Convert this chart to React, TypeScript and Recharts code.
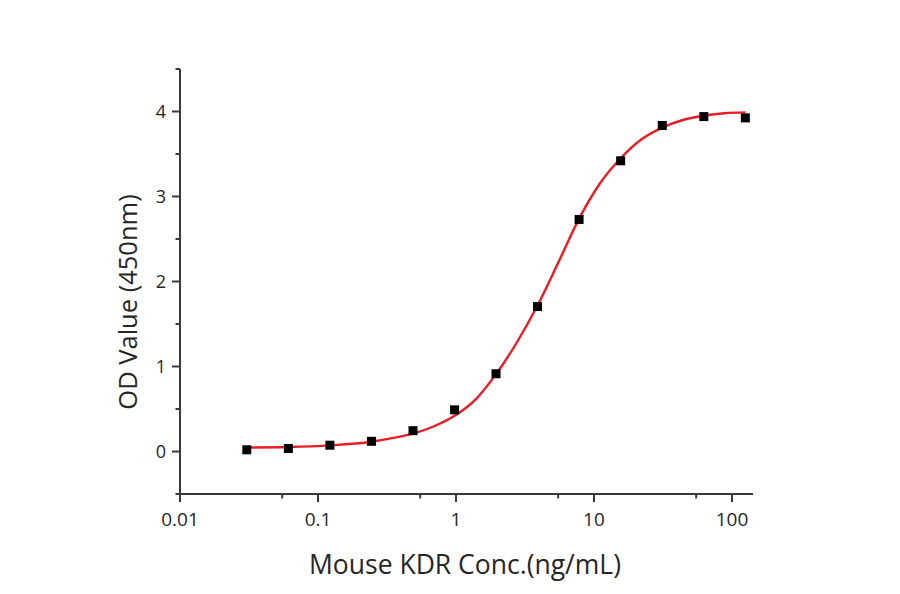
import React from "react";
import { ComposedChart, Line, Scatter, XAxis, YAxis } from "recharts";

// Measured concentrations (ng/mL) and OD values
const concentrations = [0.0305, 0.061, 0.122, 0.244, 0.488, 0.977, 1.95, 3.9, 7.8, 15.6, 31.25, 62.5, 125];
const odValues = [0.02, 0.035, 0.074, 0.12, 0.245, 0.49, 0.915, 1.705, 2.73, 3.42, 3.835, 3.94, 3.925];

// Fitted curve
const curveX = [0.0305, 0.061, 0.122, 0.244, 0.35, 0.488, 0.7, 0.977, 1.4, 1.95, 2.8, 3.9, 5.5, 7.8, 11, 15.6, 22, 31.25, 44, 62.5, 88, 125];
const curveY = [0.047, 0.053, 0.072, 0.115, 0.16, 0.21, 0.3, 0.42, 0.62, 0.91, 1.3, 1.72, 2.22, 2.74, 3.15, 3.45, 3.67, 3.81, 3.9, 3.95, 3.98, 3.99];

const xTicks = [0.01, 0.055, 0.1, 0.55, 1, 5.5, 10, 55, 100];
const xTickLabels: Record<string, string> = { "0.01": "0.01", "0.1": "0.1", "1": "1", "10": "10", "100": "100" };
const yTicks = [-0.5, 0, 0.5, 1, 1.5, 2, 2.5, 3, 3.5, 4, 4.5];

const xLabel = "Mouse KDR Conc.(ng/mL)";
const yLabel = "OD Value (450nm)";

const points = concentrations.map((x, i) => ({ x, y: odValues[i] }));
const curve = curveX.map((x, i) => ({ x, y: curveY[i] }));

const AXIS_COLOR = "#3a3a3a";
const TEXT_COLOR = "#262626";
const FONT = "'Open Sans', 'Noto Sans', sans-serif";

const XTick = (props: any) => {
  const { x, y, payload } = props;
  const v = payload.value;
  const label = xTickLabels[String(v)];
  const major = label !== undefined;
  return (
    <g>
      <line x1={x} x2={x} y1={y} y2={y + (major ? 8 : 4.5)} stroke={AXIS_COLOR} strokeWidth={2} />
      {major && (
        <text x={x} y={y + 32} textAnchor="middle" fontSize={19} fill={TEXT_COLOR} fontFamily={FONT}>
          {label}
        </text>
      )}
    </g>
  );
};

const YTick = (props: any) => {
  const { x, y, payload } = props;
  const v = payload.value;
  const major = Number.isInteger(v);
  return (
    <g>
      <line x1={x - (major ? 8 : 4.5)} x2={x} y1={y} y2={y} stroke={AXIS_COLOR} strokeWidth={2} />
      {major && (
        <text x={x - 14} y={y + 6.5} textAnchor="end" fontSize={18} fill={TEXT_COLOR} fontFamily={FONT}>
          {String(v)}
        </text>
      )}
    </g>
  );
};

const SquareDot = (props: any) => {
  const { cx, cy } = props;
  if (cx == null || cy == null) return null;
  return <rect x={cx - 4.5} y={cy - 4.5} width={9} height={9} fill="#000" />;
};

export default function App() {
  return (
    <div style={{ position: "absolute", left: 0, top: 0, width: 900, height: 594, background: "#fff" }}>
      <ComposedChart
        width={900}
        height={594}
        margin={{ top: 69, right: 147, bottom: 0, left: 0 }}
      >
        <XAxis
          dataKey="x"
          type="number"
          scale="log"
          domain={[0.01, 142]}
          allowDataOverflow
          ticks={xTicks}
          interval={0}
          height={100}
          tickSize={0}
          tickMargin={0}
          tickLine={false}
          tick={<XTick />}
          axisLine={{ stroke: AXIS_COLOR, strokeWidth: 2 }}
        />
        <YAxis
          dataKey="y"
          type="number"
          domain={[-0.5, 4.5]}
          allowDataOverflow
          ticks={yTicks}
          interval={0}
          width={180}
          tickSize={0}
          tickMargin={0}
          tickLine={false}
          tick={<YTick />}
          axisLine={{ stroke: AXIS_COLOR, strokeWidth: 2 }}
        />
        <Line
          data={curve}
          dataKey="y"
          type="monotone"
          stroke="#ec1c24"
          strokeWidth={2.4}
          dot={false}
          activeDot={false}
          isAnimationActive={false}
        />
        <Scatter data={points} dataKey="y" shape={<SquareDot />} isAnimationActive={false} />
      </ComposedChart>
      <svg width={900} height={594} style={{ position: "absolute", left: 0, top: 0, pointerEvents: "none" }}>
        <text x={465} y={574} textAnchor="middle" fontSize={26.5} fill={TEXT_COLOR} fontFamily={FONT}>
          {xLabel}
        </text>
        <text
          x={137}
          y={302}
          textAnchor="middle"
          fontSize={25.5}
          fill={TEXT_COLOR}
          fontFamily={FONT}
          transform="rotate(-90 137 302)"
        >
          {yLabel}
        </text>
      </svg>
    </div>
  );
}
